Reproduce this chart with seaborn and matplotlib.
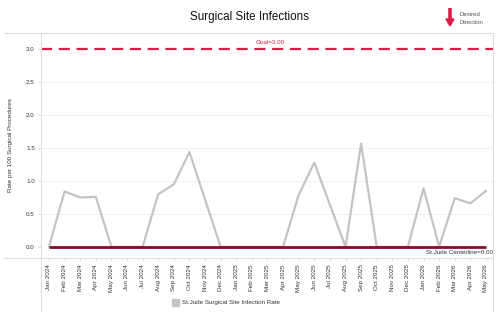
import matplotlib
matplotlib.use("Agg")
import matplotlib.pyplot as plt
import seaborn as sns
import pandas as pd
from matplotlib.lines import Line2D

months = ["Jan 2024", "Feb 2024", "Mar 2024", "Apr 2024", "May 2024", "Jun 2024",
          "Jul 2024", "Aug 2024", "Sep 2024", "Oct 2024", "Nov 2024", "Dec 2024",
          "Jan 2025", "Feb 2025", "Mar 2025", "Apr 2025", "May 2025", "Jun 2025",
          "Jul 2025", "Aug 2025", "Sep 2025", "Oct 2025", "Nov 2025", "Dec 2025",
          "Jan 2026", "Feb 2026", "Mar 2026", "Apr 2026", "May 2026"]
rates = [0.0, 0.84, 0.75, 0.76, 0.0, 0.0,
         0.0, 0.80, 0.95, 1.44, 0.72, 0.0,
         0.0, 0.0, 0.0, 0.0, 0.79, 1.28,
         0.64, 0.0, 1.57, 0.0, 0.0, 0.0,
         0.89, 0.0, 0.74, 0.66, 0.85]
goal = 3.0
centerline = 0.0
yticks = [0.0, 0.5, 1.0, 1.5, 2.0, 2.5, 3.0]

sns.set_theme(style="white")
plt.rcParams['font.family'] = ['Liberation Sans', 'DejaVu Sans']

W, H = 500, 315
fig = plt.figure(figsize=(5, 3.15), dpi=100)

def fx(px):
    return px / W

def fy(py):
    return 1 - py / H

ax = fig.add_axes([fx(41), fy(258), fx(493) - fx(41), fy(33) - fy(258)])

df = pd.DataFrame({"idx": range(len(months)), "rate": rates, "month": months})

for yv in yticks[1:-1]:
    ax.axhline(yv, color="#f1f1f1", lw=0.7, zorder=0)

sns.lineplot(data=df, x="idx", y="rate", ax=ax, color="#c4c4c4", lw=1.6,
             zorder=2, legend=False)
ax.plot([0, len(months) - 1], [centerline, centerline], color="#8b0a2a",
        lw=2.0, zorder=3, solid_capstyle="butt")
ax.axhline(goal, color="#dc1e46", lw=1.6, ls=(0, (5, 3)), zorder=3)

ax.set_xlim(-0.51, 28.45)
ax.set_ylim(-0.17, 3.25)
ax.set_yticks(yticks)
ax.set_yticklabels([f"{v:.1f}" for v in yticks], fontsize=4.5, color="#333333")
ax.set_xticks(range(len(months)))
ax.set_xticklabels(months, rotation=90, fontsize=4.5, color="#333333")
ax.tick_params(axis="both", length=2.5, width=0.5, color="#cccccc", pad=2)
ax.tick_params(axis="y", left=True)
ax.tick_params(axis="x", bottom=True)
ax.set_xlabel("")
ax.set_ylabel("Rate per 100 Surgical Procedures", fontsize=4.5, color="#333333",
              labelpad=9)

for s in ax.spines.values():
    s.set_visible(False)

ax.text(0.5 * (len(months) - 1) + 0.15, goal + 0.06, "Goal=3.00", color="#dc1e46",
        fontsize=4.5, ha="center", va="bottom")
ax.text(28.45, centerline - 0.05, "St.Jude Centerline=0.00", color="#333333",
        fontsize=4.5, ha="right", va="top")

lc = "#dddddd"
fig.add_artist(Line2D([fx(4), fx(493)], [fy(33), fy(33)], color=lc, lw=0.8))
fig.add_artist(Line2D([fx(4), fx(493)], [fy(258), fy(258)], color=lc, lw=0.8))
fig.add_artist(Line2D([fx(41), fx(41)], [fy(33), fy(311)], color=lc, lw=0.8))
fig.add_artist(Line2D([fx(492.5), fx(492.5)], [fy(33), fy(311)], color=lc, lw=0.8))

fig.text(0.5, fy(17), "Surgical Site Infections", fontsize=8.4, ha="center",
         va="center", color="#111111")

fig.add_artist(Line2D([fx(450), fx(450)], [fy(8), fy(20)], color="#dc1e46",
                      lw=2.6, solid_capstyle="butt"))
fig.add_artist(plt.Polygon([[fx(446), fy(19)], [fx(454), fy(19)], [fx(450), fy(26)]],
                           closed=True, color="#dc1e46", transform=fig.transFigure))
fig.text(fx(459), fy(14), "Desired", fontsize=4.3, color="#555555", va="center")
fig.text(fx(459), fy(22), "Direction", fontsize=4.3, color="#555555", va="center")

fig.add_artist(plt.Rectangle((fx(172), fy(306)), fx(7), fy(299) - fy(306),
                             color="#c4c4c4", transform=fig.transFigure))
fig.text(fx(182), fy(302.5), "St.Jude Surgical Site Infection Rate", fontsize=4.5,
         color="#333333", va="center")

fig.savefig("out.png", dpi=100, facecolor="white")
